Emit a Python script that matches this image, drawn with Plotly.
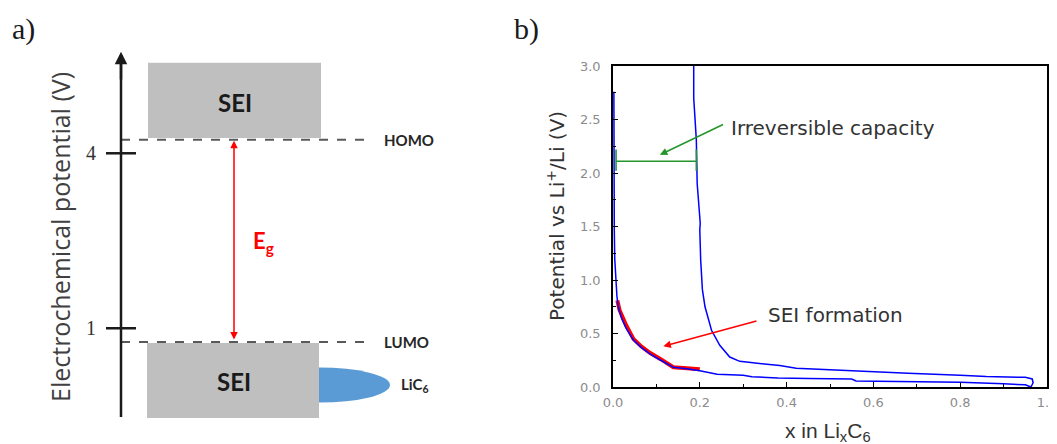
import plotly.graph_objects as go

# ---------------- Panel b data (x in LixC6, potential V) ----------------
lith_x = [0.002, 0.002, 0.002, 0.003, 0.004, 0.006, 0.009, 0.012, 0.02, 0.03, 0.047, 0.065, 0.085,
          0.11, 0.139, 0.17, 0.2, 0.24, 0.3, 0.32, 0.38, 0.45, 0.55, 0.56, 0.7, 0.8, 0.9, 0.95, 0.963]
lith_y = [2.76, 2.3, 1.8, 1.47, 1.2, 1.0, 0.85, 0.75, 0.64, 0.55, 0.44, 0.37, 0.31,
          0.25, 0.184, 0.17, 0.152, 0.12, 0.11, 0.096, 0.085, 0.08, 0.075, 0.056, 0.05, 0.045, 0.03, 0.02, 0.0]

delith_x = [0.963, 0.968, 0.966, 0.955, 0.95, 0.86, 0.8, 0.68, 0.567, 0.422, 0.384, 0.33, 0.292, 0.269,
            0.246, 0.227, 0.212, 0.206, 0.202, 0.2, 0.201, 0.194, 0.192, 0.186, 0.186]
delith_y = [0.0, 0.04, 0.075, 0.09, 0.09, 0.097, 0.11, 0.128, 0.15, 0.175, 0.2, 0.22, 0.24, 0.28,
            0.39, 0.53, 0.75, 0.91, 1.19, 1.47, 1.53, 1.9, 2.31, 2.7, 3.0]

sei_x = [0.01, 0.015, 0.03, 0.047, 0.065, 0.085, 0.11, 0.139, 0.17, 0.2]
sei_y = [0.81, 0.72, 0.58, 0.45, 0.38, 0.32, 0.26, 0.185, 0.175, 0.165]

irr_x = [0.007, 0.192]     # irreversible capacity bracket ends
irr_y = 2.11
irr_cap = [2.02, 2.22]

x_ticks = [0.0, 0.2, 0.4, 0.6, 0.8, 1.0]
y_ticks = [0.0, 0.5, 1.0, 1.5, 2.0, 2.5, 3.0]

# ---------------- Panel a data (electrochemical potential, V) ----------------
pot_ticks = [1, 4]
pot_tick_labels = ["1", "4"]
homo_v = 4.23
lumo_v = 0.765
sei_top_v = [4.26, 5.55]
sei_bot_v = [-0.54, 0.747]
axis_v = [-0.52, 5.74]
lic6_v = 0.027
lic6_half = 0.30

# page body has an 8px margin: figure sized so it ends exactly at the window edge
OFF = 8
W, H = 1057 - OFF, 444 - OFF


def px(p):
    return (p - OFF) / W


def py(p):
    return 1 - (p - OFF) / H


def volt(p):
    return (386.6 - p) / 58.33


fig = go.Figure()

# ---- panel b traces ----
fig.add_trace(go.Scatter(x=sei_x, y=sei_y, mode="lines",
                         line=dict(color="#FF0000", width=4), showlegend=False, hoverinfo="skip"))
fig.add_trace(go.Scatter(x=lith_x, y=lith_y, mode="lines",
                         line=dict(color="#0000FF", width=1.5), showlegend=False))
fig.add_trace(go.Scatter(x=delith_x, y=delith_y, mode="lines",
                         line=dict(color="#0000FF", width=1.5), showlegend=False))
fig.add_trace(go.Scatter(
    x=[irr_x[0], irr_x[1], None, irr_x[0], irr_x[0], None, irr_x[1], irr_x[1]],
    y=[irr_y, irr_y, None, irr_cap[0], irr_cap[1], None, irr_cap[0], irr_cap[1]],
    mode="lines", line=dict(color="#22962a", width=1.6), showlegend=False))

tickfont = dict(family="DejaVu Sans", size=13, color="#8c8c8c")
fig.update_layout(
    width=W, height=H, margin=dict(l=0, r=0, t=0, b=0, autoexpand=False),
    paper_bgcolor="white", plot_bgcolor="rgba(0,0,0,0)", showlegend=False,
    xaxis=dict(domain=[px(613), px(1047)], range=[0, 1], anchor="y", automargin=False,
               tickvals=x_ticks, ticktext=[f"{v:.1f}" for v in x_ticks],
               ticks="inside", ticklen=5, tickwidth=1.2, tickcolor="black",
               showline=True, linecolor="black", linewidth=1.6, mirror=True,
               showgrid=False, zeroline=False, tickfont=tickfont, ticklabelstandoff=3,
               ticklabeloverflow="allow",
               minor=dict(dtick=0.1, ticks="inside", ticklen=3, tickcolor="black", showgrid=False)),
    yaxis=dict(domain=[py(387), py(66)], range=[0, 3], anchor="x", automargin=False,
               tickvals=y_ticks, ticktext=[f"{v:.1f}" for v in y_ticks],
               ticks="inside", ticklen=5, tickwidth=1.2, tickcolor="black",
               showline=True, linecolor="black", linewidth=1.6, mirror=True,
               showgrid=False, zeroline=False, tickfont=tickfont, ticklabelstandoff=8,
               ticklabeloverflow="allow",
               minor=dict(dtick=0.25, ticks="inside", ticklen=3, tickcolor="black", showgrid=False)),
    # panel a helper axes: x in window pixels, y in volts
    xaxis2=dict(domain=[0, 0.47], range=[OFF, OFF + 0.47 * W], anchor="y2", visible=False,
                fixedrange=True, automargin=False),
    yaxis2=dict(domain=[0, 1], range=[volt(444), volt(OFF)], anchor="x2",
                visible=False, fixedrange=True, automargin=False),
)

# ---- panel a shapes ----
shapes = []
shapes.append(dict(type="circle", xref="x2", yref="y2", x0=248, x1=390,
                   y0=lic6_v - lic6_half, y1=lic6_v + lic6_half,
                   fillcolor="#5B9BD5", line=dict(width=0)))
shapes.append(dict(type="rect", xref="x2", yref="y2", x0=148, x1=321,
                   y0=sei_top_v[0], y1=sei_top_v[1], fillcolor="#BFBFBF", line=dict(width=0)))
shapes.append(dict(type="rect", xref="x2", yref="y2", x0=147, x1=319,
                   y0=sei_bot_v[0], y1=sei_bot_v[1], fillcolor="#BFBFBF", line=dict(width=0)))
for lv in (homo_v, lumo_v):
    shapes.append(dict(type="line", xref="x2", yref="y2", x0=121, x1=370, y0=lv, y1=lv,
                       line=dict(color="#595959", width=2, dash="dash")))
shapes.append(dict(type="line", xref="x2", yref="y2", x0=121, x1=121,
                   y0=axis_v[0], y1=axis_v[1] - 0.15, line=dict(color="#1a1a1a", width=2.5)))
for tv in pot_ticks:
    shapes.append(dict(type="line", xref="x2", yref="y2", x0=106, x1=136, y0=tv, y1=tv,
                       line=dict(color="#1a1a1a", width=2.5)))
fig.update_layout(shapes=shapes)

ann = []
ann.append(dict(xref="x2", yref="y2", axref="x2", ayref="y2", x=121, y=axis_v[1],
                ax=121, ay=axis_v[1] - 0.5, text="", showarrow=True, arrowhead=2,
                arrowsize=1, arrowwidth=2.5, arrowcolor="#1a1a1a", standoff=0))
ann.append(dict(xref="x2", yref="y2", axref="x2", ayref="y2", x=234, y=homo_v,
                ax=234, ay=lumo_v, text="", showarrow=True, arrowhead=2, arrowside="end+start",
                arrowsize=1, arrowwidth=1.5, arrowcolor="#FF0000", standoff=1, startstandoff=1))
for tv, tl in zip(pot_ticks, pot_tick_labels):
    ann.append(dict(xref="x2", yref="y2", x=91, y=tv, text=tl, showarrow=False,
                    xanchor="center", yanchor="middle",
                    font=dict(family="Liberation Serif", size=20, color="#333333")))
ann.append(dict(xref="x2", yref="y2", x=235, y=volt(102), text="<b>SEI</b>", showarrow=False,
                xanchor="center", yanchor="middle",
                font=dict(family="Lato", size=24, color="#1a1a1a")))
ann.append(dict(xref="x2", yref="y2", x=234, y=volt(381), text="<b>SEI</b>", showarrow=False,
                xanchor="center", yanchor="middle",
                font=dict(family="Lato", size=24, color="#1a1a1a")))
ann.append(dict(xref="x2", yref="y2", x=382, y=homo_v, text="<b>HOMO</b>", showarrow=False,
                xanchor="left", yanchor="middle", font=dict(family="Lato", size=15, color="#262626")))
ann.append(dict(xref="x2", yref="y2", x=382, y=lumo_v, text="<b>LUMO</b>", showarrow=False,
                xanchor="left", yanchor="middle", font=dict(family="Lato", size=15, color="#262626")))
ann.append(dict(xref="x2", yref="y2", x=399, y=lic6_v, text="<b>LiC<sub>6</sub></b>", showarrow=False,
                xanchor="left", yanchor="middle", font=dict(family="Lato", size=15, color="#262626")))
ann.append(dict(xref="x2", yref="y2", x=251, y=volt(242), text="<b>E<sub>g</sub></b>", showarrow=False,
                xanchor="left", yanchor="middle", font=dict(family="Lato", size=22, color="#FF0000")))
ann.append(dict(xref="paper", yref="paper", x=px(60), y=py(237),
                text="Electrochemical potential (V)", textangle=-90, showarrow=False,
                xanchor="center", yanchor="middle",
                font=dict(family="Open Sans", size=25, color="#404040")))
ann.append(dict(xref="paper", yref="paper", x=px(23.5), y=py(29), text="a)", showarrow=False,
                xanchor="center", yanchor="middle",
                font=dict(family="Liberation Serif", size=30, color="#1a1a1a")))
ann.append(dict(xref="paper", yref="paper", x=px(526), y=py(29), text="b)", showarrow=False,
                xanchor="center", yanchor="middle",
                font=dict(family="Liberation Serif", size=30, color="#1a1a1a")))

# ---- panel b annotations ----
ann.append(dict(xref="x", yref="y", axref="x", ayref="y", x=0.108, y=2.17, ax=0.257, ay=2.46,
                text="", showarrow=True, arrowhead=2, arrowsize=1, arrowwidth=1.5,
                arrowcolor="#22962a", standoff=0))
ann.append(dict(xref="x", yref="y", axref="x", ayref="y", x=0.116, y=0.38, ax=0.334, ay=0.62,
                text="", showarrow=True, arrowhead=2, arrowsize=1, arrowwidth=1.5,
                arrowcolor="#FF0000", standoff=0))
ann.append(dict(xref="x", yref="y", x=0.267, y=2.42, text="Irreversible capacity", showarrow=False,
                xanchor="left", yanchor="middle",
                font=dict(family="DejaVu Sans", size=20, color="#333333")))
ann.append(dict(xref="x", yref="y", x=0.353, y=0.67, text="SEI formation", showarrow=False,
                xanchor="left", yanchor="middle",
                font=dict(family="DejaVu Sans", size=20, color="#333333")))
ann.append(dict(xref="paper", yref="paper", x=px(556), y=py(216),
                text="Potential vs Li<sup>+</sup>/Li (V)", textangle=-90, showarrow=False,
                xanchor="center", yanchor="middle",
                font=dict(family="DejaVu Sans", size=20, color="#333333")))
ann.append(dict(xref="paper", yref="paper", x=px(828), y=py(447),
                text="x in Li<sub>x</sub>C<sub>6</sub>", showarrow=False,
                xanchor="center", yanchor="bottom",
                font=dict(family="Liberation Sans", size=21, color="#333333")))
fig.update_layout(annotations=ann)

fig.write_html("out.html")
